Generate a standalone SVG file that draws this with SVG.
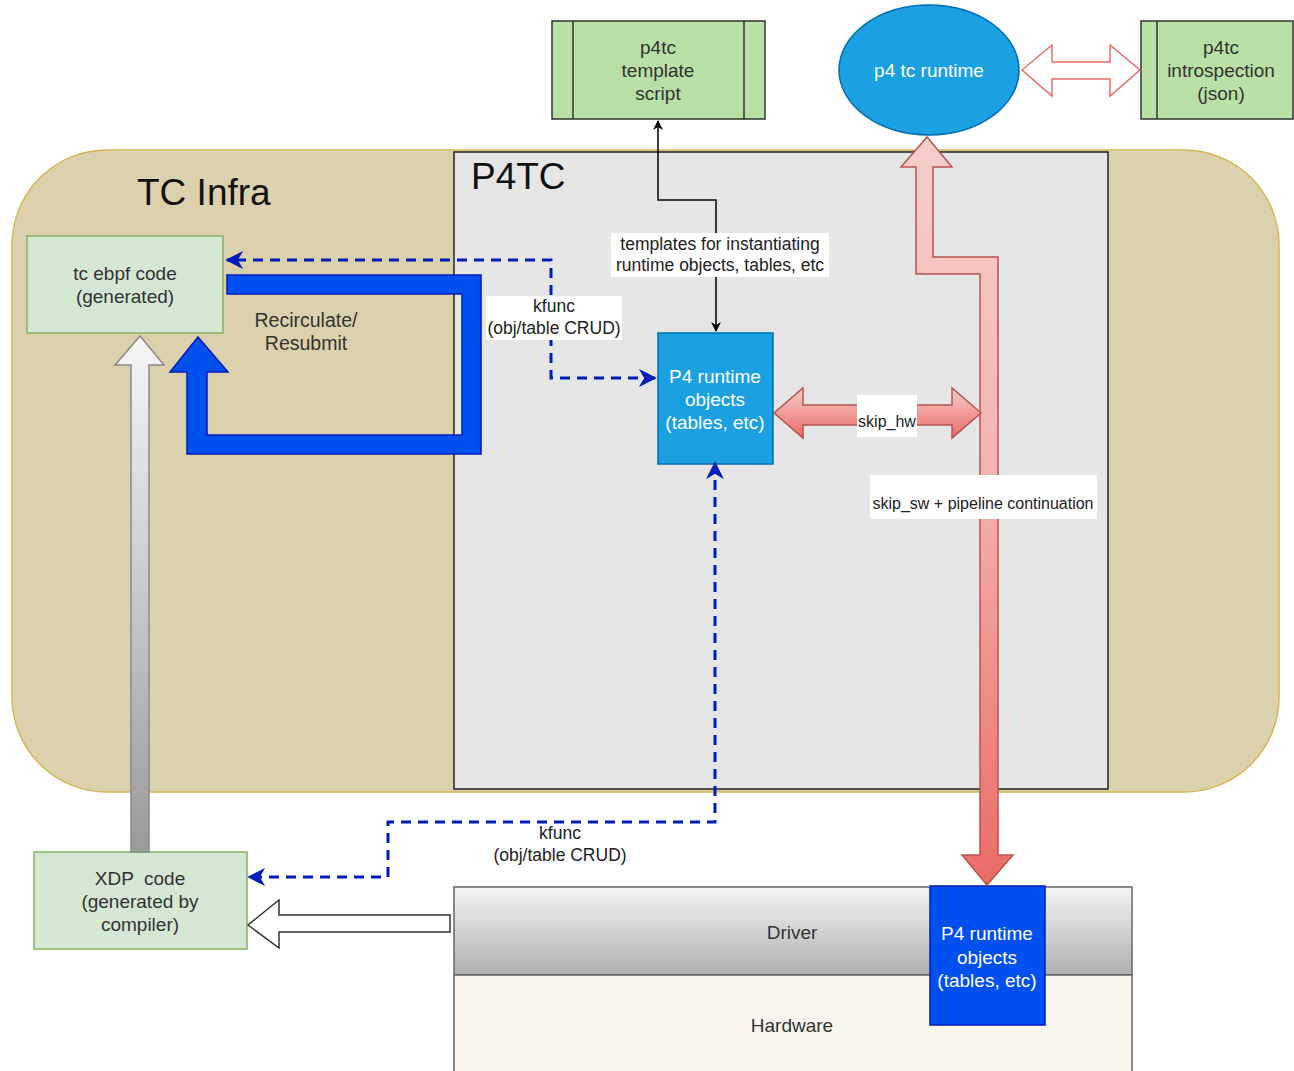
<svg xmlns="http://www.w3.org/2000/svg" width="1294" height="1071" viewBox="0 0 1294 1071">
<style>
text{font-family:"Liberation Sans",Arial,sans-serif;text-anchor:middle}
.lbl{font-size:19px;fill:#333}
.wlbl{font-size:19px;fill:#ffffff}
.sm{font-size:17.5px;fill:#222}
.xs{font-size:16px;fill:#222}
.big{font-size:37px;fill:#111;text-anchor:start}
.green{fill:#b9e0a5;stroke:#333;stroke-width:1.5}
.lgreen{fill:#d5e8d4;stroke:#82b366;stroke-width:1.5}
.dash{fill:none;stroke:#001dbc;stroke-width:3;stroke-dasharray:10,7}
</style>
<defs>
<marker id="bl" viewBox="0 0 10 10" refX="9" refY="5" markerWidth="6" markerHeight="6" orient="auto-start-reverse" markerUnits="strokeWidth">
<path d="M0,0 L10,5 L0,10 L3,5 z" fill="#001dbc"/>
</marker>
<marker id="blk" viewBox="0 0 10 10" refX="9" refY="5" markerWidth="10" markerHeight="10" orient="auto-start-reverse" markerUnits="userSpaceOnUse">
<path d="M0,0 L10,5 L0,10 L3,5 z" fill="#000"/>
</marker>
<linearGradient id="pinkv" x1="0" y1="0" x2="0" y2="1">
<stop offset="0" stop-color="#f8cecc"/><stop offset="0.45" stop-color="#f4b3b0"/><stop offset="1" stop-color="#ea6b66"/>
</linearGradient>
<linearGradient id="pinkh" x1="0" y1="0" x2="0" y2="1">
<stop offset="0" stop-color="#f8cecc"/><stop offset="1" stop-color="#ea6b66"/>
</linearGradient>
<linearGradient id="greyv" x1="0" y1="0" x2="0" y2="1">
<stop offset="0" stop-color="#f7f7f7"/><stop offset="1" stop-color="#9a9a9a"/>
</linearGradient>
<linearGradient id="drv" x1="0" y1="0" x2="0" y2="1">
<stop offset="0" stop-color="#f5f5f5"/><stop offset="1" stop-color="#b0b0b0"/>
</linearGradient>
</defs>
<rect width="1294" height="1071" fill="#ffffff"/>

<g id="tc-infra">
<rect x="12" y="150" width="1267" height="642" rx="95" ry="95" fill="#dcd1ad" stroke="#d6b656" stroke-width="1.5"/>
<text class="big" x="137" y="205">TC Infra</text>
</g>

<g id="p4tc">
<rect x="454" y="152" width="654" height="637" fill="#e6e6e6" stroke="#222" stroke-width="1.5"/>
<text class="big" x="471" y="189">P4TC</text>
</g>

<g id="template-script">
<rect class="green" x="552" y="21" width="213" height="98"/>
<line x1="573" y1="21" x2="573" y2="119" stroke="#333" stroke-width="1.5"/>
<line x1="744" y1="21" x2="744" y2="119" stroke="#333" stroke-width="1.5"/>
<text class="lbl" x="658" y="54">p4tc</text>
<text class="lbl" x="658" y="77">template</text>
<text class="lbl" x="658" y="100">script</text>
</g>

<g id="tc-runtime">
<ellipse cx="929" cy="70" rx="90" ry="65" fill="#1ba1e2" stroke="#006eaf" stroke-width="1.5"/>
<text class="wlbl" x="929" y="77">p4 tc runtime</text>
</g>

<g id="introspection">
<rect class="green" x="1141" y="21" width="152" height="98"/>
<line x1="1157" y1="21" x2="1157" y2="119" stroke="#333" stroke-width="1.5"/>
<text class="lbl" x="1221" y="54">p4tc</text>
<text class="lbl" x="1221" y="77">introspection</text>
<text class="lbl" x="1221" y="100">(json)</text>
</g>

<g id="tc-ebpf">
<rect class="lgreen" x="27" y="236" width="196" height="97"/>
<text class="lbl" x="125" y="280">tc ebpf code</text>
<text class="lbl" x="125" y="303">(generated)</text>
</g>

<g id="xdp">
<rect class="lgreen" x="34" y="852" width="213" height="97"/>
<text class="lbl" x="140" y="885" xml:space="preserve">XDP  code</text>
<text class="lbl" x="140" y="908">(generated by</text>
<text class="lbl" x="140" y="931">compiler)</text>
</g>

<g id="driver-hw">
<rect x="454" y="887" width="678" height="88" fill="url(#drv)" stroke="#666" stroke-width="1.5"/>
<rect x="454" y="975" width="678" height="100" fill="#f9f7ed" stroke="#666" stroke-width="1.5"/>
<text class="lbl" x="792" y="939">Driver</text>
<text class="lbl" x="792" y="1032">Hardware</text>
</g>

<g id="p4-runtime-objects">
<rect x="658" y="333" width="115" height="131" fill="#1ba1e2" stroke="#006eaf" stroke-width="1.5"/>
<text class="wlbl" x="715" y="383">P4 runtime</text>
<text class="wlbl" x="715" y="406">objects</text>
<text class="wlbl" x="715" y="429">(tables, etc)</text>
</g>

<g id="hw-runtime-objects">
<rect x="930" y="886" width="115" height="139" fill="#0050ef" stroke="#001dbc" stroke-width="1.5"/>
<text class="wlbl" x="987" y="940">P4 runtime</text>
<text class="wlbl" x="987" y="964">objects</text>
<text class="wlbl" x="987" y="987">(tables, etc)</text>
</g>

<g id="connectors">
<!-- recirculate loop -->
<polygon points="227,275 481,275 481,454 187,454 187,372 170,372 198,337 228,372 207,372 207,435 462,435 462,294 227,294" fill="#0050ef" stroke="#001dbc" stroke-width="1.5"/>
<text class="lbl" x="306" y="327" style="font-size:19.5px">Recirculate/</text>
<text class="lbl" x="306" y="350" style="font-size:19.5px">Resubmit</text>

<!-- grey XDP -> tc ebpf -->
<polygon points="140,336 164,365 149,365 149,852 131,852 131,365 115,365" fill="url(#greyv)" stroke="#8a8a8a" stroke-width="1.5"/>

<!-- driver -> XDP hollow arrow -->
<polygon points="248,925 279,900 279,915 450,915 450,932 279,932 279,948" fill="#ffffff" stroke="#333" stroke-width="1.5"/>

<!-- runtime <-> introspection -->
<polygon points="1022,70 1052,45 1052,62 1110,62 1110,45 1140,70 1110,96 1110,79 1052,79 1052,96" fill="#ffffff" stroke="#ea6b66" stroke-width="1.5"/>

<!-- template script <-> P4 runtime objects -->
<polyline points="658,121 658,200 716,200 716,331" fill="none" stroke="#000" stroke-width="1.5" marker-start="url(#blk)" marker-end="url(#blk)"/>
<rect x="611" y="233" width="218" height="44" fill="#ffffff"/>
<text class="sm" x="720" y="250">templates for instantiating</text>
<text class="sm" x="720" y="271">runtime objects, tables, etc</text>

<!-- kfunc 1 -->
<polyline class="dash" points="655,378 551,378 551,260 227,260" marker-start="url(#bl)" marker-end="url(#bl)"/>
<rect x="486" y="296" width="136" height="44" fill="#ffffff"/>
<text class="sm" x="554" y="312">kfunc</text>
<text class="sm" x="554" y="334">(obj/table CRUD)</text>

<!-- kfunc 2 -->
<polyline class="dash" points="715,463 715,822 388,822 388,877 249,877" marker-start="url(#bl)" marker-end="url(#bl)"/>
<text class="sm" x="560" y="839">kfunc</text>
<text class="sm" x="560" y="861">(obj/table CRUD)</text>

<!-- tall pink: runtime <-> hw objects -->
<polygon points="927,137 952,167 933,167 933,257 998,257 998,855 1013,855 987,885 962,855 980,855 980,274 916,274 916,167 901,167" fill="url(#pinkv)" stroke="#b85450" stroke-width="1.5"/>

<!-- skip_hw -->
<polygon points="774,413 803,388 803,405 952,405 952,388 981,413 952,438 952,425 803,425 803,438" fill="url(#pinkh)" stroke="#b85450" stroke-width="1.5"/>
<rect x="857" y="395" width="60" height="42" fill="#ffffff"/>
<text class="xs" x="887" y="427">skip_hw</text>

<rect x="870" y="475" width="227" height="44" fill="#ffffff"/>
<text class="xs" x="983" y="509">skip_sw + pipeline continuation</text>
</g>
</svg>
